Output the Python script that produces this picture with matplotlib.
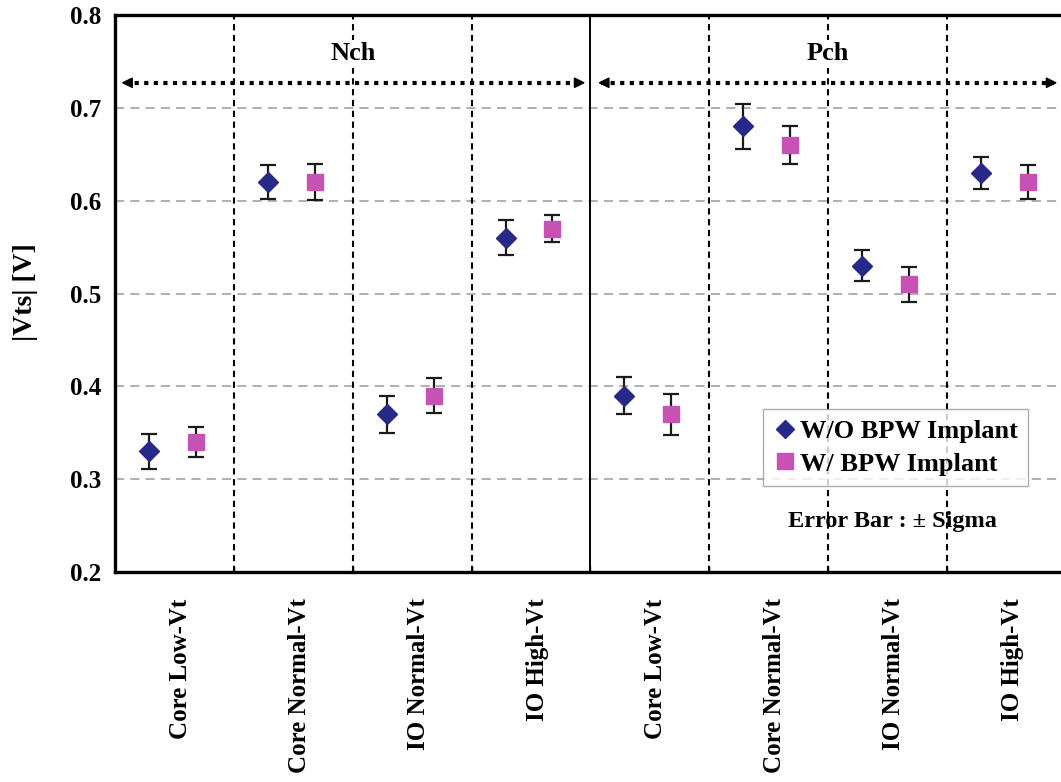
import numpy as np
import matplotlib
matplotlib.use("Agg")
import matplotlib.pyplot as plt
from matplotlib.lines import Line2D

plt.rcParams['font.family'] = ['Liberation Serif', 'DejaVu Serif']
plt.rcParams['font.weight'] = 'bold'

# device categories (Nch block then Pch block)
categories = ["Core Low-Vt", "Core Normal-Vt", "IO Normal-Vt", "IO High-Vt",
              "Core Low-Vt", "Core Normal-Vt", "IO Normal-Vt", "IO High-Vt"]
# |Vts| without / with BPW implant, and their sigma
vts_wo = [0.33, 0.62, 0.37, 0.56, 0.39, 0.68, 0.53, 0.63]
sig_wo = [0.019, 0.018, 0.020, 0.019, 0.020, 0.024, 0.017, 0.017]
vts_w = [0.34, 0.62, 0.39, 0.57, 0.37, 0.66, 0.51, 0.62]
sig_w = [0.016, 0.019, 0.019, 0.015, 0.022, 0.020, 0.019, 0.018]
yticks = [0.2, 0.3, 0.4, 0.5, 0.6, 0.7, 0.8]

c_wo = '#27298a'
c_w = '#c653b4'

fig = plt.figure(figsize=(10.61, 7.82), dpi=100)
ax = fig.add_axes([115/1061, 1-572/782, 951/1061, 557/782])

n = len(categories)
x = np.arange(n)
ax.set_xlim(0, n)
ax.set_ylim(0.2, 0.8)

# horizontal grid
for yv in yticks[1:-1]:
    ax.axhline(yv, color='#9a9a9a', lw=1.1, ls=(0, (6, 4)), zorder=1)
# group separators
for b in range(1, n):
    if b == n // 2:
        ax.axvline(b, color='black', lw=1.4, zorder=2)
    else:
        ax.axvline(b, color='black', lw=1.5, ls=(0, (3, 2.2)), zorder=2)

ax.errorbar(x + 0.285, vts_wo, yerr=sig_wo, fmt='D', color=c_wo, ms=10,
            ecolor='#1a1a1a', elinewidth=1.6, capsize=6, capthick=1.6, zorder=4)
ax.errorbar(x + 0.68, vts_w, yerr=sig_w, fmt='s', color=c_w, ms=12,
            ecolor='#1a1a1a', elinewidth=1.6, capsize=6, capthick=1.6, zorder=4)

# Nch / Pch span arrows
arr_y = 0.727
for x0, x1, name in [(0.03, 3.98, 'Nch'), (4.04, 7.95, 'Pch')]:
    ax.plot([x0 + 0.05, x1 - 0.05], [arr_y, arr_y], color='black', lw=3,
            ls=(0, (1, 1.3)), zorder=3)
    for tip, d in [(x0, 0.1), (x1, -0.1)]:
        ax.annotate('', xy=(tip, arr_y), xytext=(tip + d, arr_y),
                    arrowprops=dict(arrowstyle='-|>', color='black', lw=1.2,
                                    mutation_scale=16), zorder=3)
    ax.text((x0 + x1) / 2, 0.758, name, ha='center', va='center',
            fontsize=19, fontweight='bold', zorder=5,
            bbox=dict(facecolor='white', edgecolor='none', pad=2))

for s in ax.spines.values():
    s.set_linewidth(2.4)

ax.set_yticks(yticks)
ax.set_yticklabels([f"{v:.1f}" for v in yticks], fontsize=18, fontweight='bold')
ax.tick_params(axis='y', length=0, pad=10)

ax.set_xticks(range(1, n))
ax.set_xticklabels([])
ax.set_xticks(x + 0.55, minor=True)
ax.set_xticklabels(categories, minor=True, rotation=90, fontsize=18,
                   fontweight='bold', va='top', ha='center')
ax.tick_params(axis='x', which='major', direction='in', length=4, width=1)
ax.tick_params(axis='x', which='minor', length=0, pad=19)

fig.text(25/1061, 1-292/782, '|Vts| [V]', rotation=90, ha='center',
         va='center', fontsize=20, fontweight='bold')

handles = [Line2D([], [], ls='none', marker='D', ms=9, color=c_wo),
           Line2D([], [], ls='none', marker='s', ms=11, color=c_w)]
leg = ax.legend(handles, ['W/O BPW Implant', 'W/ BPW Implant'],
                loc='upper left', bbox_to_anchor=(0.681, 0.293), fontsize=19,
                frameon=True, fancybox=False, edgecolor='#999999',
                handletextpad=0.1, handlelength=0.9, borderpad=0.4,
                labelspacing=0.35, borderaxespad=0)
leg.get_frame().set_linewidth(1.0)

ax.text(6.54, 0.254, 'Error Bar : ± Sigma', ha='center', va='center',
        fontsize=17.5, fontweight='bold')

fig.savefig('out.png', dpi=100)
